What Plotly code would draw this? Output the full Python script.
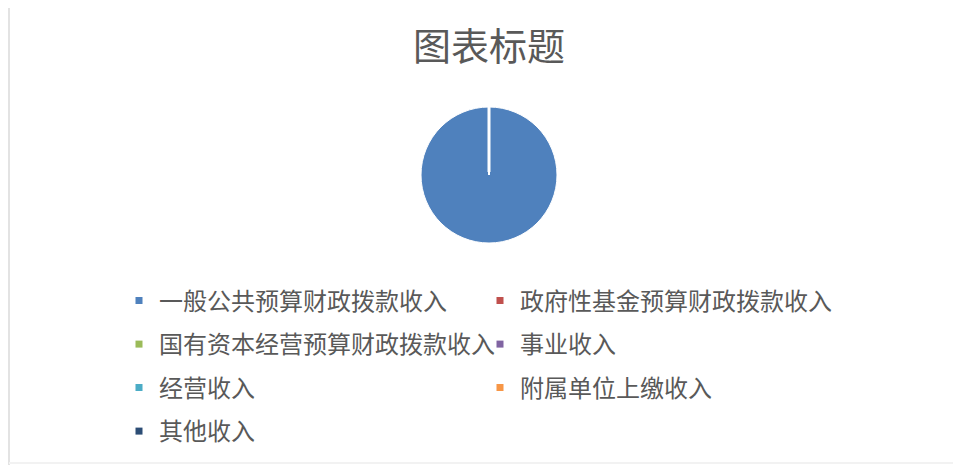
import plotly.graph_objects as go

categories = ["一般公共预算财政拨款收入", "政府性基金预算财政拨款收入", "国有资本经营预算财政拨款收入",
              "事业收入", "经营收入", "附属单位上缴收入", "其他收入"]
values = [100, 0, 0, 0, 0, 0, 0]
colors = ["#4F81BD", "#C0504D", "#9BBB59", "#8064A2", "#4BACC6", "#F79646", "#2C4D75"]
title_text = "图表标题"

W, H = 961, 465
OFF = 8  # page body margin offset
FONT = "Noto Sans CJK SC"
TXT = "#595959"

# pie placement (pixels, figure coordinates)
pcx, pcy, pr = 489 - OFF, 175 - OFF, 68
dom_x = [(pcx - pr) / W, (pcx + pr) / W]
dom_y = [1 - (pcy + pr) / H, 1 - (pcy - pr) / H]

fig = go.Figure()
fig.add_trace(go.Pie(labels=categories, values=values, marker=dict(colors=colors, line=dict(color="white", width=1)),
                     textinfo="none", sort=False, direction="clockwise", rotation=0,
                     showlegend=False, domain=dict(x=dom_x, y=dom_y), hoverinfo="label+value+percent"))

legend_names = ["legend", "legend2", "legend3", "legend4"]
for i, (c, col) in enumerate(zip(categories, colors)):
    fig.add_trace(go.Scatter(x=[None], y=[None], mode="markers", name=c,
                             marker=dict(symbol="square", size=7, color=col),
                             legend=legend_names[i // 2], showlegend=True, hoverinfo="skip"))

# slice boundary line at start angle (12 o'clock)
fig.add_shape(type="line", xref="paper", yref="paper",
              x0=pcx / W, x1=pcx / W, y0=1 - (pcy - 3) / H, y1=1 - (pcy - pr) / H,
              line=dict(color="white", width=3), layer="above")

# chart area border
fig.add_shape(type="line", xref="paper", yref="paper", x0=1 / W, x1=1 / W, y0=0, y1=1,
              line=dict(color="#E3E3E3", width=2))
fig.add_shape(type="line", xref="paper", yref="paper", x0=1 / W, x1=1, y0=1 - 455 / H, y1=1 - 455 / H,
              line=dict(color="#F2F2F2", width=2))

row_y0, row_step = 301 - OFF, 43.5
leg_x = 123 - OFF - 4
layout_legends = {}
for k, ln in enumerate(legend_names):
    layout_legends[ln] = dict(orientation="h", x=leg_x / W, xanchor="left",
                              y=1 - (row_y0 + k * row_step) / H, yanchor="middle",
                              entrywidth=316, entrywidthmode="pixels",
                              font=dict(family=FONT, size=24, color=TXT),
                              bgcolor="rgba(0,0,0,0)", itemclick=False, itemdoubleclick=False)

fig.update_layout(
    width=W, height=H,
    margin=dict(l=0, r=0, t=0, b=0),
    paper_bgcolor="white", plot_bgcolor="white",
    title=dict(text=title_text, x=pcx / W, xanchor="center", y=1 - (47 - OFF) / H, yanchor="middle",
               xref="paper", yref="paper",
               font=dict(family=FONT, size=38, color=TXT)),
    xaxis=dict(visible=False), yaxis=dict(visible=False),
    font=dict(family=FONT, color=TXT),
    **layout_legends,
)

fig.write_html("out.html")
